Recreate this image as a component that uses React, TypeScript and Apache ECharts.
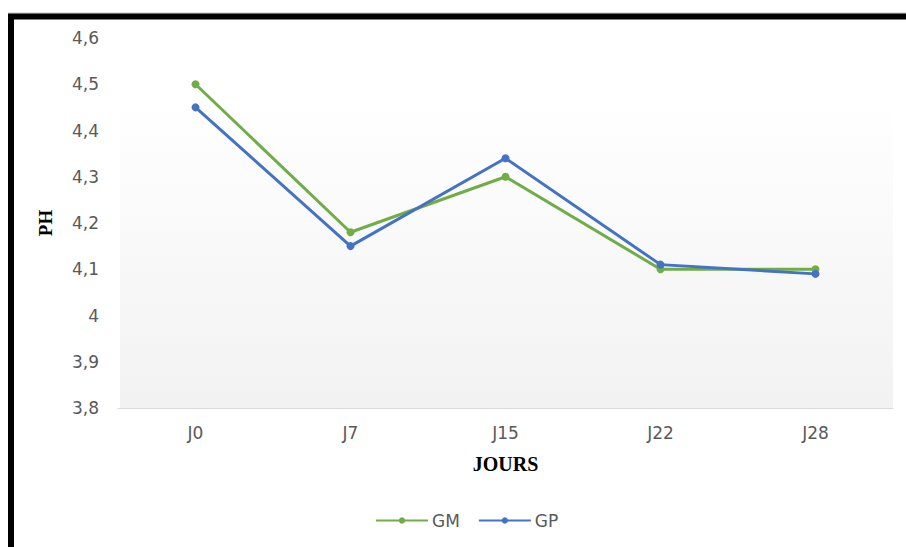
import React, { useEffect, useRef } from "react";
import * as echarts from "echarts";

const categories = ["J0", "J7", "J15", "J22", "J28"];
const gmValues = [4.5, 4.18, 4.3, 4.1, 4.1];
const gpValues = [4.45, 4.15, 4.34, 4.11, 4.09];
const yMin = 3.8;
const yMax = 4.6;
const yStep = 0.1;

export default function App() {
  const ref = useRef<HTMLDivElement>(null);
  useEffect(() => {
    if (!ref.current) return;
    const chart = echarts.init(ref.current, null, { renderer: "svg" });
    const labelFont = "DejaVu Sans";
    chart.setOption({
      animation: false,
      backgroundColor: "#ffffff",
      graphic: [
        {
          type: "rect",
          z: -10,
          shape: { x: 120, y: 100, width: 773, height: 308 },
          style: {
            fill: new echarts.graphic.LinearGradient(0, 0, 0, 1, [
              { offset: 0, color: "#ffffff" },
              { offset: 1, color: "#f2f2f2" },
            ]),
          },
        },
        {
          type: "line",
          z: 100,
          shape: { x1: 8, y1: 13, x2: 906, y2: 13 },
          style: { stroke: "#c0c0c0", lineWidth: 1 },
        },
        {
          type: "rect",
          z: 100,
          shape: { x: 11, y: 16.5, width: 1000, height: 1000 },
          style: { fill: "none", stroke: "#000000", lineWidth: 6 },
        },
      ],
      grid: { left: 118, right: 13, top: 38, bottom: 139, containLabel: false },
      legend: {
        bottom: 13,
        left: 370,
        itemWidth: 52,
        itemHeight: 8,
        itemGap: 18,
        textStyle: { fontFamily: labelFont, fontSize: 17, color: "#595959", padding: [0, 0, 0, -1] },
        data: ["GM", "GP"],
      },
      xAxis: {
        type: "category",
        data: categories,
        boundaryGap: true,
        name: "JOURS",
        nameLocation: "middle",
        nameGap: 46,
        nameTextStyle: {
          fontFamily: "Liberation Serif",
          fontWeight: "bold",
          fontSize: 20,
          color: "#000000",
        },
        axisLine: { show: true, lineStyle: { color: "#d9d9d9", width: 1 } },
        axisTick: { show: false },
        axisLabel: {
          fontFamily: labelFont,
          fontSize: 17,
          color: "#595959",
          margin: 16,
        },
        splitLine: { show: false },
      },
      yAxis: {
        type: "value",
        min: yMin,
        max: yMax,
        interval: yStep,
        name: "PH",
        nameLocation: "middle",
        nameRotate: 90,
        nameGap: 63,
        nameTextStyle: {
          fontFamily: "Liberation Serif",
          fontWeight: "bold",
          fontSize: 19,
          color: "#000000",
        },
        axisLine: { show: false },
        axisTick: { show: false },
        splitLine: { show: false },
        axisLabel: {
          fontFamily: labelFont,
          fontSize: 17,
          color: "#595959",
          margin: 19,
          formatter: (v: number) => String(Math.round(v * 10) / 10).replace(".", ","),
        },
      },
      series: [
        {
          name: "GM",
          type: "line",
          data: gmValues,
          symbol: "circle",
          symbolSize: 8,
          itemStyle: { color: "#70ad47" },
          lineStyle: { color: "#70ad47", width: 3 },
          z: 3,
        },
        {
          name: "GP",
          type: "line",
          data: gpValues,
          symbol: "circle",
          symbolSize: 8,
          itemStyle: { color: "#4472c4" },
          lineStyle: { color: "#4472c4", width: 3 },
          z: 4,
        },
      ],
    });
    return () => chart.dispose();
  }, []);
  return (
    <div
      ref={ref}
      style={{ position: "fixed", left: 0, top: 0, width: 906, height: 547 }}
    />
  );
}
